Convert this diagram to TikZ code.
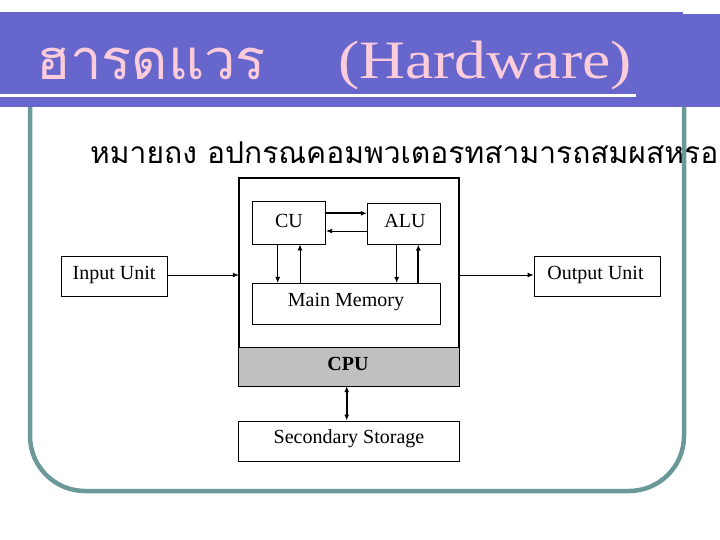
\documentclass[tikz,border=0pt]{standalone}
\usepackage{fontspec}
\setmainfont{Liberation Serif}
\newfontfamily\thaifont[Script=Thai]{Loma}
\newfontfamily\wideserif[FakeStretch=1.18]{Liberation Serif}
\usetikzlibrary{arrows.meta,calc}
\definecolor{bandblue}{RGB}{102,102,204}
\definecolor{titlepink}{RGB}{252,204,218}
\definecolor{frameteal}{RGB}{107,153,153}
\definecolor{cpugrey}{RGB}{192,192,192}
\tikzset{
  box/.style={draw=black, line width=0.9pt, inner sep=0pt, fill=white},
  lbl/.style={anchor=base, inner sep=0pt, font=\fontsize{20}{22}\selectfont},
  arr/.style={draw=black, line width=0.9pt, -{Latex[length=6pt,width=5pt]}},
  thickarr/.style={draw=black, line width=1.8pt, -{Latex[length=6pt,width=5pt]}},
  dblarr/.style={draw=black, line width=1.6pt, {Latex[length=6pt,width=5pt]}-{Latex[length=6pt,width=5pt]}}
}
\begin{document}
\begin{tikzpicture}[x=1pt,y=-1pt]
\useasboundingbox (0,0) rectangle (720,540);
\fill[white] (0,0) rectangle (720,540);
% title band
\fill[bandblue] (0,12) rectangle (683,107);
\fill[bandblue] (683,14) rectangle (720,107);
\draw[white, line width=3pt] (0,96) -- (636,96);
\node[anchor=base west, inner sep=0pt, text=titlepink, font=\thaifont\fontsize{56}{60}\selectfont] (tth) at (36,80) {ฮารดแวร};
\node[anchor=base west, inner sep=0pt, text=titlepink, font=\wideserif\fontsize{54}{58}\selectfont] (ten) at (338,79) {(Hardware)};
% subtitle
\node[anchor=base west, inner sep=0pt, font=\thaifont\fontsize{30}{34}\selectfont] (sub) at (90,164) {หมายถง อปกรณคอมพวเตอรทสามารถสมผสหรอ};
% frame
\draw[frameteal, line width=4.5pt, rounded corners=55pt] (30,107) -- (30,491) -- (684,491) -- (684,107);
% CPU outer box
\node[box, minimum width=219.4pt, minimum height=207.7pt] (cpu) at (349,281.85) {};
\fill[cpugrey] (239.3,347.3) rectangle (458.7,385.7);
\draw[line width=0.9pt] (239.3,347.3) -- (458.7,347.3);
\draw[line width=0.9pt] (cpu.north west) rectangle (cpu.south east);
\node[lbl, font=\bfseries\fontsize{20}{22}\selectfont] (cpulbl) at (348,370) {CPU};
% inner boxes
\node[box, minimum width=73pt, minimum height=43pt] (cu) at (289.2,222.5) {};
\node[lbl] (culbl) at (289,227) {CU};
\node[box, minimum width=73.4pt, minimum height=40.7pt] (alu) at (404,223.7) {};
\node[lbl] (alulbl) at (405,227) {ALU};
\node[box, minimum width=187.3pt, minimum height=40.7pt] (mm) at (346.3,303.7) {};
\node[lbl] (mmlbl) at (346,306.7) {Main Memory};
% outer units
\node[box, minimum width=106.3pt, minimum height=40.7pt] (in) at (114.2,276.3) {};
\node[lbl] (inlbl) at (114,279.3) {Input Unit};
\node[box, minimum width=126pt, minimum height=40.7pt] (out) at (597,276.3) {};
\node[lbl] (outlbl) at (595.5,279.3) {Output Unit};
\node[box, minimum width=221pt, minimum height=40.7pt] (ss) at (348.8,441.3) {};
\node[lbl] (sslbl) at (349,443.3) {Secondary Storage};
% connectors
\draw[arr] ([yshift=1.3pt]in.east) -- ([yshift=1.3pt]in.east -| cpu.west);
\draw[arr] ([yshift=1.3pt]out.west -| cpu.east) -- ([yshift=1.3pt]out.west);
\draw[thickarr] ([yshift=9.2pt]cu.east) -- ([yshift=9.2pt]cu.east -| alu.west);
\draw[arr] ([yshift=-8.5pt]cu.east -| alu.west) -- ([yshift=-8.5pt]cu.east);
\draw[arr] ([xshift=-11.5pt]cu.south) -- ([xshift=-11.5pt]cu.south |- mm.north);
\draw[arr] ([xshift=10.8pt]cu.south |- mm.north) -- ([xshift=10.8pt]cu.south);
\draw[arr] ([xshift=-7.3pt]alu.south) -- ([xshift=-7.3pt]alu.south |- mm.north);
\draw[thickarr] ([xshift=14.3pt]alu.south |- mm.north) -- ([xshift=14.3pt]alu.south);
\draw[dblarr] ([xshift=-2.3pt]cpu.south) -- ([xshift=-2.3pt]cpu.south |- ss.north);
\end{tikzpicture}
\end{document}
